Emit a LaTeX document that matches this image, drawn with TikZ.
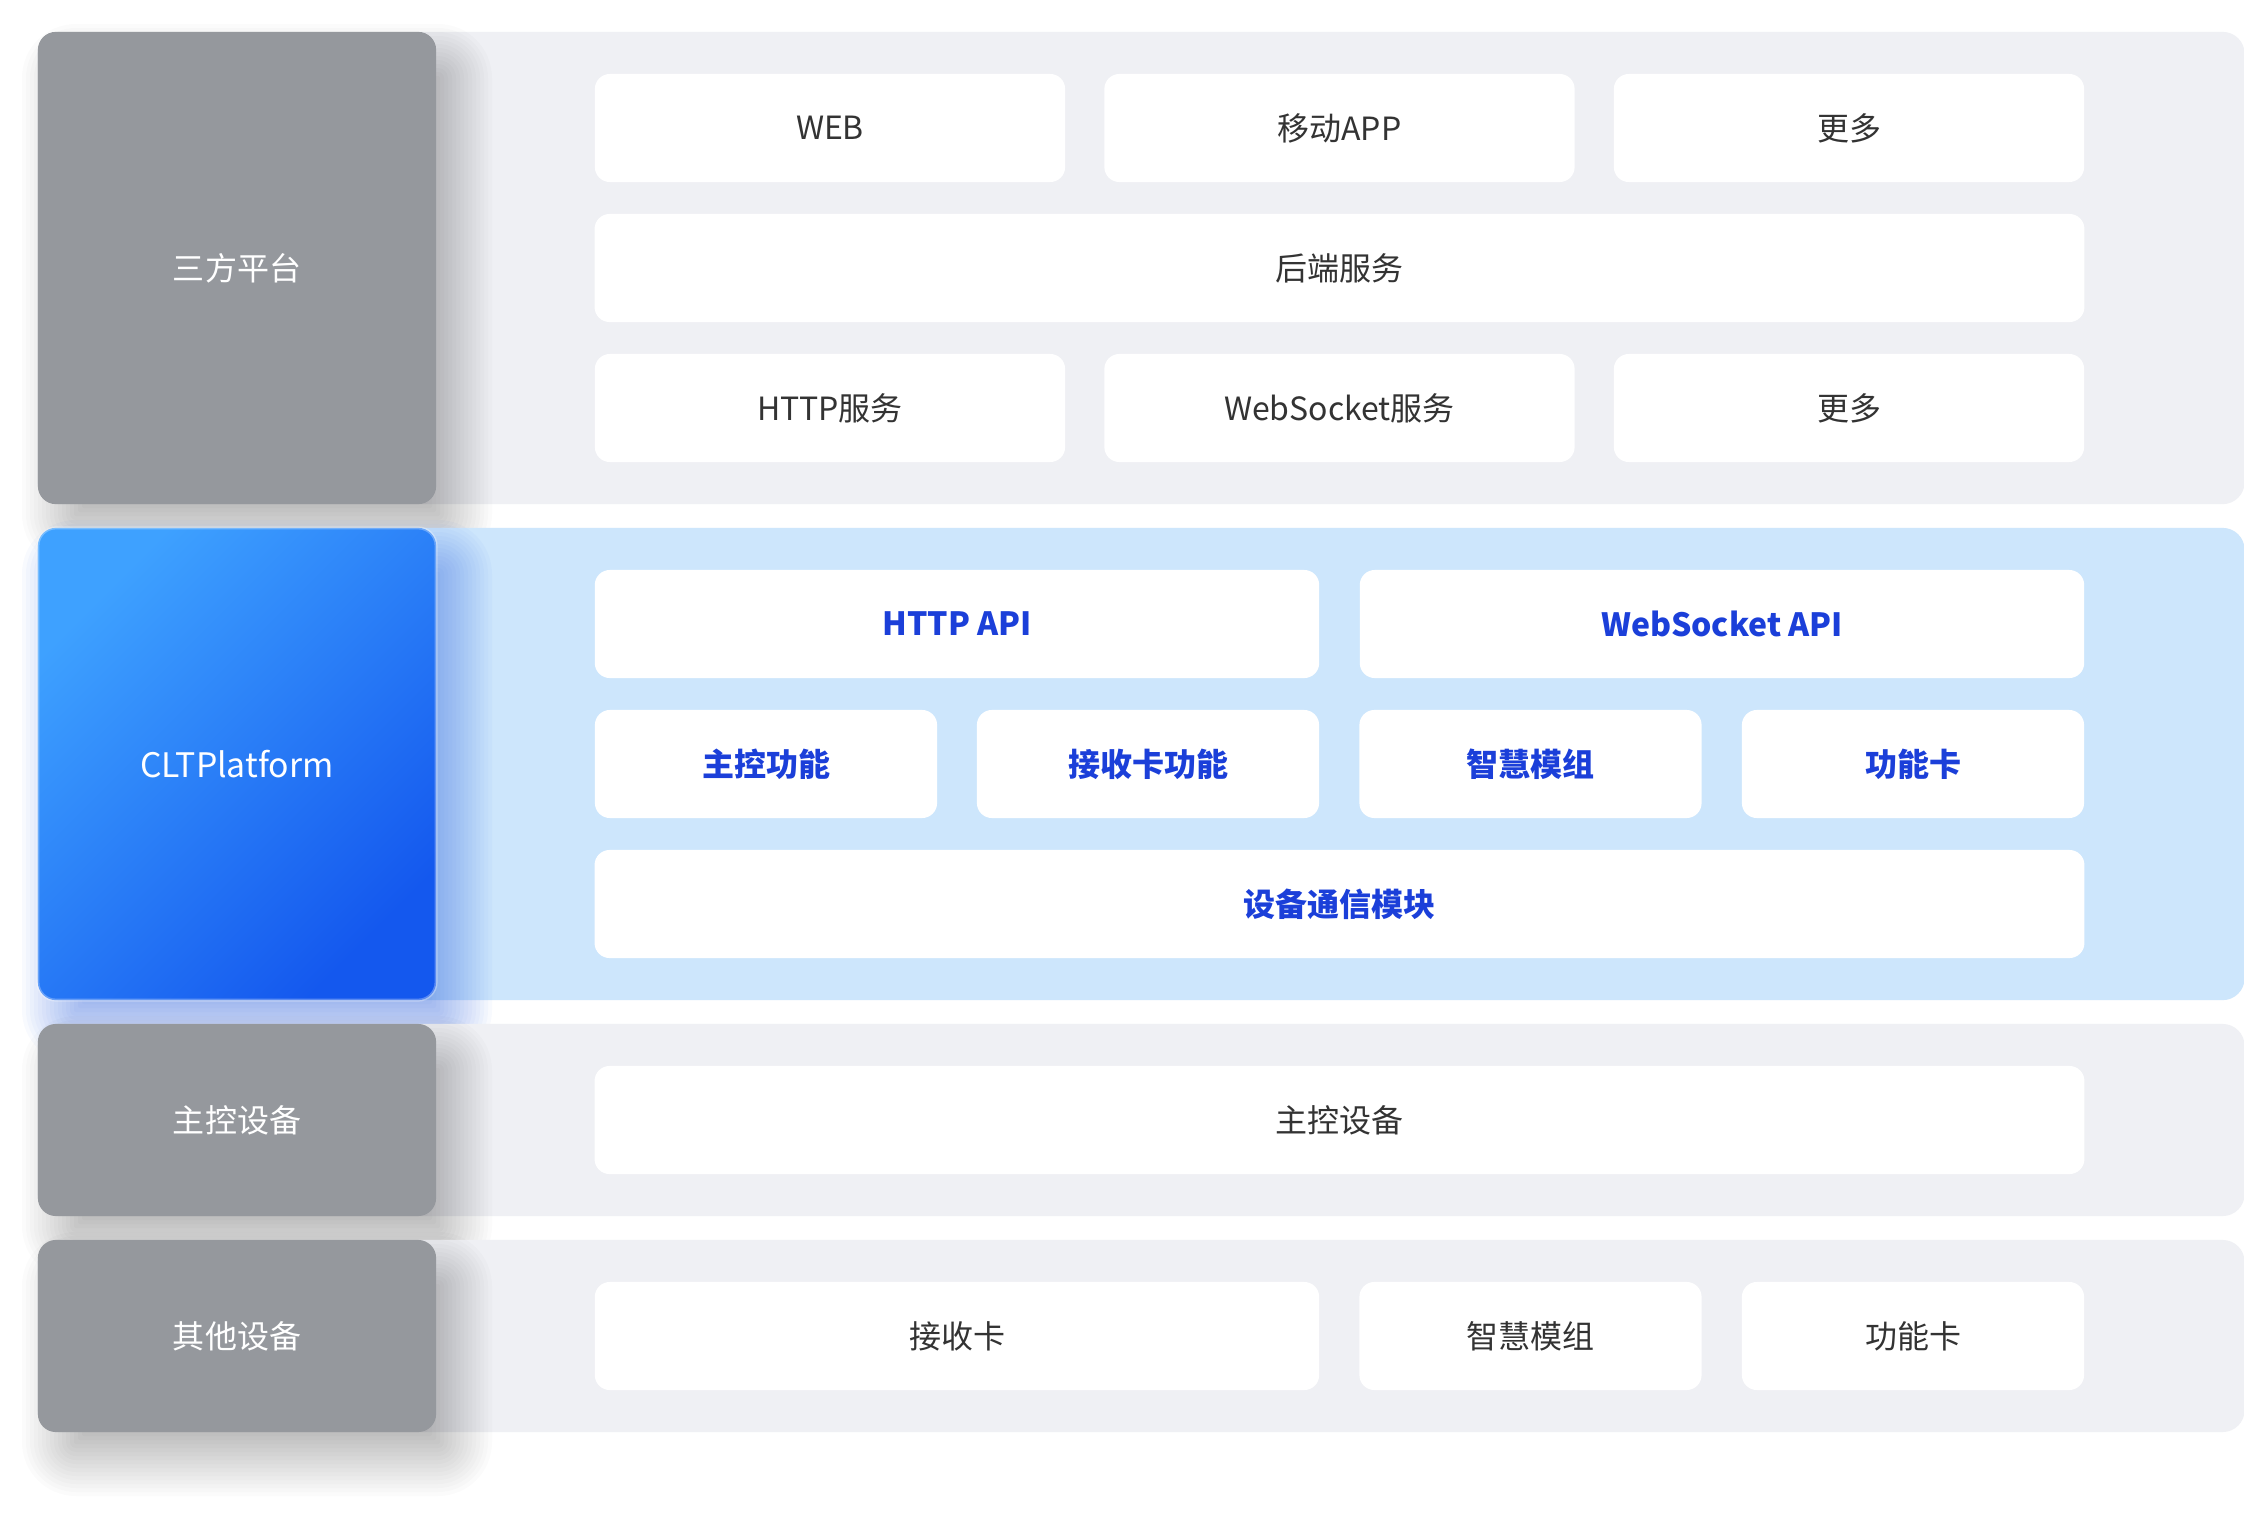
\documentclass[tikz,border=0pt]{standalone}
\usepackage{fontspec}
\setmainfont{Noto Sans CJK SC}
\definecolor{rowbg}{HTML}{EFF0F4}
\definecolor{bluebg}{HTML}{CDE6FC}
\definecolor{graybox}{HTML}{95989D}
\definecolor{txtgray}{HTML}{333333}
\definecolor{txtblue}{HTML}{1B3FD9}
\definecolor{blueA}{HTML}{3EA1FF}
\definecolor{blueB}{HTML}{1458EE}
\definecolor{shadowblue}{RGB}{20,80,220}
% soft drop shadow: x1 y1 x2 y2 colour per-layer-opacity
\newcommand\softshadow[6]{%
  \foreach \e in {-28,-24,...,36}{%
    \pgfmathsetmacro\rr{max(18+\e,2)*0.01}%
    \fill[#5, fill opacity=#6, rounded corners=\rr cm]
      ({#1+20-\e},{#2+28-\e}) rectangle ({#3+20+\e},{#4+28+\e});
  }}
\begin{document}
\begin{tikzpicture}[x=0.01cm,y=-0.01cm,
  every node/.style={font=\fontsize{9.1pt}{11pt}\selectfont},
  rowpanel/.style={fill=rowbg, rounded corners=0.22cm, inner sep=0pt, minimum width=22.06cm},
  bluepanel/.style={rowpanel, fill=bluebg},
  cell/.style={fill=white, rounded corners=0.15cm, inner sep=0pt, minimum height=1.08cm, text=txtgray},
  bcell/.style={cell, text=txtblue, font=\fontsize{9.1pt}{11pt}\selectfont\bfseries},
  lbl/.style={fill=graybox, rounded corners=0.18cm, inner sep=0pt, minimum width=3.98cm, text=white}
]
\useasboundingbox[fill=white] (0,0) rectangle (2244,1518);

% ---------- row 1 : 三方平台 ----------
\node[rowpanel, minimum height=4.72cm] (row1) at (1141,268) {};
\softshadow{38}{32}{436}{504}{black}{0.015}
\node[lbl, minimum height=4.72cm] (tp) at (237,268) {三方平台};
\node[cell, minimum width=4.70cm] (web) at (830,128) {WEB};
\node[cell, minimum width=4.70cm] (app) at (1339.5,128) {移动APP};
\node[cell, minimum width=4.70cm] (more1) at (1849,128) {更多};
\node[cell, minimum width=14.89cm] (backend) at (1339.5,268) {后端服务};
\node[cell, minimum width=4.70cm] (http) at (830,408) {HTTP服务};
\node[cell, minimum width=4.70cm] (ws) at (1339.5,408) {WebSocket服务};
\node[cell, minimum width=4.70cm] (more2) at (1849,408) {更多};

% ---------- row 2 : CLTPlatform ----------
\node[bluepanel, minimum height=4.72cm] (row2) at (1141,764) {};
\softshadow{38}{528}{436}{1000}{shadowblue}{0.026}
\node[inner sep=0pt, minimum width=3.98cm, minimum height=4.72cm, rounded corners=0.18cm,
      top color=blueA, bottom color=blueB, shading angle=45, text=white,
      draw=white, draw opacity=0.3, line width=0.03cm,
      font=\fontsize{9.6pt}{11pt}\selectfont] (clt) at (237,764) {CLTPlatform};
\node[bcell, minimum width=7.24cm] (httpapi) at (957,624) {HTTP API};
\node[bcell, minimum width=7.24cm] (wsapi) at (1722,624) {WebSocket API};
\node[bcell, minimum width=3.42cm] (mainf) at (766,764) {主控功能};
\node[bcell, minimum width=3.42cm] (recvf) at (1148,764) {接收卡功能};
\node[bcell, minimum width=3.42cm] (smartf) at (1530.5,764) {智慧模组};
\node[bcell, minimum width=3.42cm] (funcf) at (1913,764) {功能卡};
\node[bcell, minimum width=14.89cm] (comm) at (1339.5,904) {设备通信模块};

% ---------- row 3 : 主控设备 ----------
\node[rowpanel, minimum height=1.92cm] (row3) at (1141,1120) {};
\softshadow{38}{1024}{436}{1216}{black}{0.015}
\node[lbl, minimum height=1.92cm] (mc) at (237,1120) {主控设备};
\node[cell, minimum width=14.89cm] (mcdev) at (1339.5,1120) {主控设备};

% ---------- row 4 : 其他设备 ----------
\node[rowpanel, minimum height=1.92cm] (row4) at (1141,1336) {};
\softshadow{38}{1240}{436}{1432}{black}{0.015}
\node[lbl, minimum height=1.92cm] (other) at (237,1336) {其他设备};
\node[cell, minimum width=7.24cm] (recv) at (957,1336) {接收卡};
\node[cell, minimum width=3.42cm] (smart) at (1530.5,1336) {智慧模组};
\node[cell, minimum width=3.42cm] (func) at (1913,1336) {功能卡};
\end{tikzpicture}
\end{document}
